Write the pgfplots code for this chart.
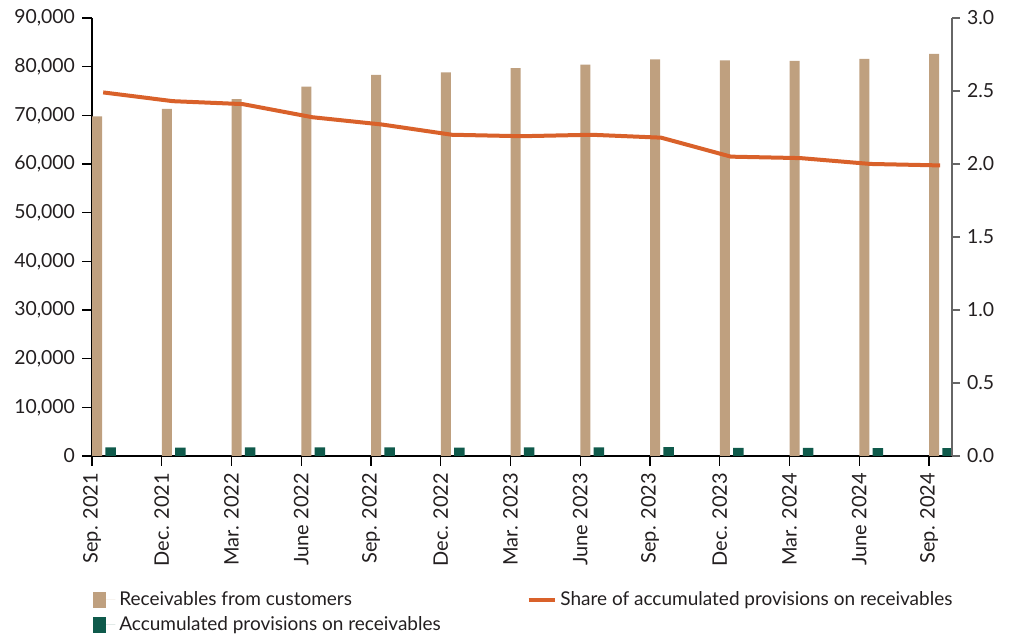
\documentclass[border=0pt]{standalone}
\usepackage{fontspec}
\setmainfont{Lato}
\usepackage{pgfplots}
\usepackage{pgfplotstable}
\pgfplotsset{compat=1.18}
\definecolor{tanc}{HTML}{BFA07F}
\definecolor{dgreen}{HTML}{0F5A4B}
\definecolor{orng}{HTML}{D9612A}
\definecolor{txt}{HTML}{231F20}

\pgfplotstableread{
x rec prov
0 69800 1750
1 71300 1700
2 73300 1750
3 75900 1750
4 78300 1750
5 78800 1700
6 79700 1750
7 80400 1750
8 81500 1800
9 81300 1650
10 81200 1650
11 81600 1600
12 82600 1600
}\bars

\pgfplotstableread{
x share
0.16 2.49
1.16 2.43
2.16 2.41
3.16 2.32
4.16 2.27
5.16 2.20
6.16 2.19
7.16 2.20
8.16 2.18
9.16 2.05
10.16 2.04
11.16 2.00
12.16 1.99
}\sharetab

\begin{document}
\begin{tikzpicture}[font=\fontsize{9}{11}\selectfont, text=txt]
\begin{axis}[
  scale only axis, width=430pt, height=219pt,
  xmin=0, xmax=12.33, ymin=0, ymax=90000,
  axis lines*=left,
  axis line style={black, line width=0.6pt},
  clip=false,
  xtick={0,...,12},
  xticklabels={Sep. 2021,Dec. 2021,Mar. 2022,June 2022,Sep. 2022,Dec. 2022,Mar. 2023,June 2023,Sep. 2023,Dec. 2023,Mar. 2024,June 2024,Sep. 2024},
  x tick label style={rotate=90, anchor=east, font=\fontsize{10}{12}\selectfont},
  ytick={0,10000,...,90000},
  scaled y ticks=false,
  y tick label style={/pgf/number format/1000 sep={,}, /pgf/number format/assume math mode=true, font=\fontsize{9.7}{11}\selectfont},
  tick align=outside, major tick length=5pt,
  tick style={black, line width=0.6pt},
  legend style={at={(axis description cs:-0.006,-0.29)}, anchor=north west, draw=none, fill=none,
    font=\fontsize{9.5}{11}\selectfont, legend columns=2, row sep=0pt,
    /tikz/every even column/.append style={column sep=41pt}},
  legend cell align=left,
]
\addplot[ybar, bar width=5pt, bar shift=2.6pt, fill=tanc, draw=none,
  legend image code/.code={\fill[tanc] (0pt,-4pt) rectangle (6.5pt,4pt); \path (0pt,0pt) -- (11pt,0pt);}]
  table[x=x, y=rec] {\bars};
\addlegendentry{Receivables from customers}
\addlegendimage{orng, line width=1.8pt, legend image code/.code={\draw[orng, line width=1.8pt] (0pt,0pt) -- (13pt,0pt);}}
\addlegendentry{Share of accumulated provisions on receivables}
\addplot[ybar, bar width=5.3pt, bar shift=9.3pt, fill=dgreen, draw=none,
  legend image code/.code={\fill[dgreen] (0pt,-4pt) rectangle (6.5pt,4pt); \path (0pt,0pt) -- (11pt,0pt);}]
  table[x=x, y=prov] {\bars};
\addlegendentry{Accumulated provisions on receivables}
\path (rel axis cs:-0.107,-0.418) rectangle (rel axis cs:1.0674,1.041);
\end{axis}
\begin{axis}[
  scale only axis, width=430pt, height=219pt,
  xmin=0, xmax=12.33, ymin=0, ymax=3,
  axis x line=none,
  axis y line*=right,
  axis line style={gray!80!black, line width=0.6pt},
  ytick={0,0.5,...,3},
  y tick label style={/pgf/number format/fixed, /pgf/number format/fixed zerofill, /pgf/number format/precision=1, /pgf/number format/assume math mode=true, font=\fontsize{9.7}{11}\selectfont},
  tick align=outside, major tick length=4pt,
  tick style={gray!80!black, line width=0.6pt},
]
\addplot[orng, line width=2pt] table[x=x, y=share] {\sharetab};
\end{axis}
\end{tikzpicture}
\end{document}
